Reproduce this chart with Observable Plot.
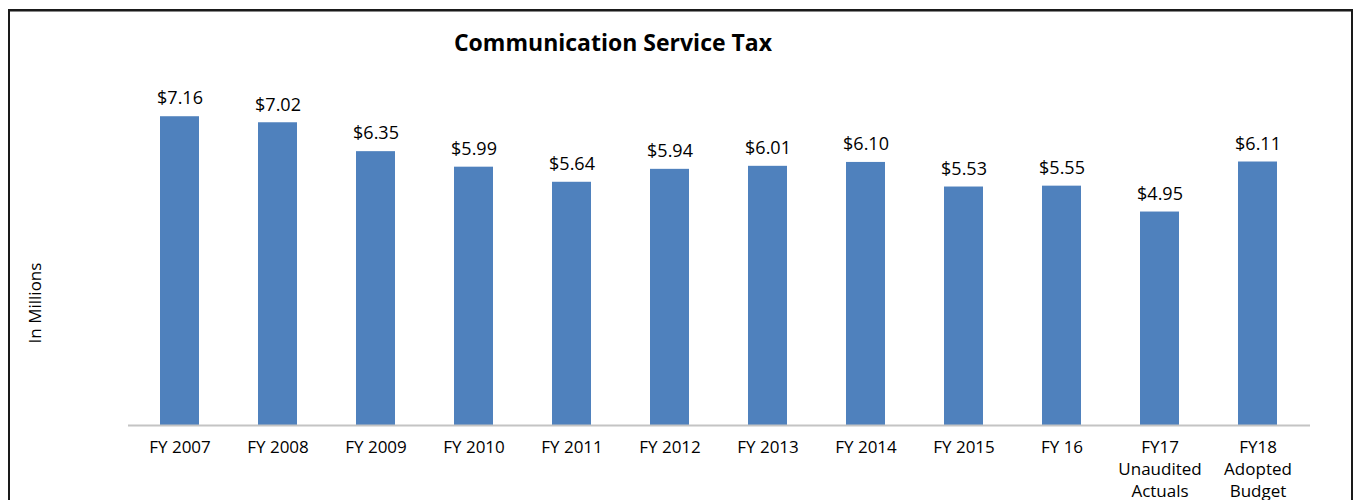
<!DOCTYPE html>
<html>
<head>
<meta charset="utf-8">
<script src="https://cdn.jsdelivr.net/npm/d3@7"></script>
<script src="https://cdn.jsdelivr.net/npm/@observablehq/plot@0.6"></script>
<style>
  html, body { margin: 0; padding: 0; background: #fff; overflow: hidden; }
  #wrap { position: relative; width: 1358px; height: 500px; font-family: "Open Sans", sans-serif; }
  #frame { position: absolute; left: 8px; top: 9px; width: 1341px; height: 520px; border: 2px solid #1a1a1a; box-shadow: 0 1px 0 #888 inset; }
  #title { position: absolute; left: 613px; top: 42px; transform: translate(-50%, -50%); font-size: 23px; font-weight: bold; color: #000; white-space: nowrap; }
  #chart { position: absolute; left: 0; top: 0; }
</style>
</head>
<body>
<div id="wrap">
  <div id="frame"></div>
  <div id="chart"></div>
  <div id="title">Communication Service Tax</div>
</div>
<script>
const categories = ["FY 2007", "FY 2008", "FY 2009", "FY 2010", "FY 2011", "FY 2012", "FY 2013", "FY 2014", "FY 2015", "FY 16", "FY17\nUnaudited\nActuals", "FY18\nAdopted\nBudget"];
const values = [7.16, 7.02, 6.35, 5.99, 5.64, 5.94, 6.01, 6.10, 5.53, 5.55, 4.95, 6.11];
const yLabel = "In Millions";

const data = categories.map((c, i) => ({cat: c, value: values[i]}));

const chart = Plot.plot({
  width: 1358,
  height: 500,
  marginLeft: 128,
  marginRight: 48,
  marginTop: 80,
  marginBottom: 75,
  style: {fontFamily: "Open Sans, sans-serif", background: "transparent"},
  x: {domain: categories, paddingInner: 0.6, paddingOuter: 0.3, axis: null},
  y: {domain: [0, 8], axis: null},
  marks: [
    Plot.barY(data, {x: "cat", y: "value", fill: "#4f81bd"}),
    Plot.ruleY([0], {stroke: "#c4c4c4", strokeWidth: 2}),
    Plot.text(data, {x: "cat", y: "value", text: d => "$" + d.value.toFixed(2), dy: -18, lineAnchor: "middle", fontSize: 18, fill: "#000"}),
    Plot.text(data, {x: "cat", text: "cat", frameAnchor: "bottom", dy: 12, lineAnchor: "top", lineHeight: 1.3, fontSize: 17, fill: "#000"}),
    Plot.text([yLabel], {frameAnchor: "left", textAnchor: "middle", rotate: -90, dx: -93, dy: 50, fontSize: 17, fill: "#000"})
  ]
});
document.getElementById("chart").appendChild(chart);
</script>
</body>
</html>
